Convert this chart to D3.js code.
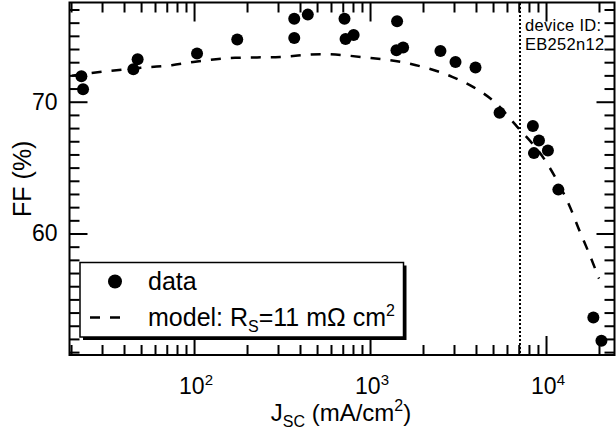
<!DOCTYPE html>
<html>
<head>
<meta charset="utf-8">
<script src="https://cdn.jsdelivr.net/npm/d3@7"></script>
<style>
  body { margin: 0; background: #fff; }
  svg { display: block; font-family: "Liberation Sans", Arial, Helvetica, sans-serif; }
</style>
</head>
<body>
<div id="vis"></div>
<script>
// measured points (J_SC in mA/cm2, FF in %)
const jsc = [22.9, 23.4, 47.8, 45.2, 104, 176, 371, 443, 371, 716, 807, 726,
             1425, 1542, 1413, 2512, 3060, 3975, 5447, 8420, 9120, 8540, 10250, 11750, 18580, 20650]
const ff = [71.94, 70.94, 73.23, 72.47, 73.66, 74.72, 76.30, 76.61, 74.84, 76.30, 75.06, 74.76,
            76.10, 74.11, 73.91, 73.85, 73.02, 72.60, 69.17, 68.16, 67.05, 66.10, 66.30, 63.33, 53.63, 51.86]

// series-resistance model curve
const modelJ = [20.2, 29.9, 45, 74.7, 99, 171, 308, 533, 940, 1658, 2930, 3890, 5165, 6714,
                10250, 13800, 15540, 17480, 20000]
const modelFF = [71.98, 72.27, 72.52, 72.77, 73.02, 73.33, 73.40, 73.61, 73.36, 72.90, 71.89, 71.09,
                 69.92, 68.24, 65.22, 61.89, 60.17, 58.56, 56.58]

const deviceJ = 7080
const deviceText = ["device ID:", "EB252n12"]

const xMajor = [100, 1000, 10000]
const xMajorExp = ["2", "3", "4"]
const xMinor = [20, 30, 40, 50, 60, 70, 80, 90, 200, 300, 400, 500, 600, 700, 800, 900,
                2000, 3000, 4000, 5000, 6000, 7000, 8000, 9000, 20000]
const yMajor = [60, 70]
const yMinor = [51, 52, 53, 54, 55, 56, 57, 58, 59, 61, 62, 63, 64, 65, 66, 67, 68, 69,
                71, 72, 73, 74, 75, 76, 77]

const W = 616, H = 434
const m = {left: 69.5, right: 1.5, top: 2.5, bottom: 79}

let svg = d3.select("#vis").append("svg")
    .attr("width", W)
    .attr("height", H)

let x = d3.scaleLog().domain([19.6, 24500]).range([m.left, W - m.right])
let y = d3.scaleLinear().domain([50.78, 77.53]).range([H - m.bottom, m.top])

// ticks, all pointing inward, mirrored on top and right
function ticks(axis, vals, len, transform) {
    svg.append("g")
       .attr("transform", transform)
       .call(axis.tickValues(vals).tickSize(-len).tickFormat(""))
       .call(g => g.select(".domain").remove())
       .call(g => g.selectAll("line").attr("stroke-width", 2))
}
ticks(d3.axisBottom(x), xMinor, 10, `translate(0,${H - m.bottom})`)
ticks(d3.axisBottom(x), xMajor, 19, `translate(0,${H - m.bottom})`)
ticks(d3.axisTop(x), xMinor, 10, `translate(0,${m.top})`)
ticks(d3.axisTop(x), xMajor, 19, `translate(0,${m.top})`)
ticks(d3.axisLeft(y), yMinor, 10, `translate(${m.left},0)`)
ticks(d3.axisLeft(y), yMajor, 18, `translate(${m.left},0)`)
ticks(d3.axisRight(y), yMinor, 10, `translate(${W - m.right},0)`)
ticks(d3.axisRight(y), yMajor, 18, `translate(${W - m.right},0)`)

// tick labels
svg.append("g").selectAll("text")
   .data(yMajor)
   .join("text")
   .attr("x", m.left - 12)
   .attr("y", d => y(d))
   .attr("dy", "0.34em")
   .attr("text-anchor", "end")
   .attr("font-size", 23)
   .text(d => d)

let xl = svg.append("g").selectAll("text")
   .data(xMajor)
   .join("text")
   .attr("x", d => x(d) + 2)
   .attr("y", 394)
   .attr("text-anchor", "middle")
   .attr("font-size", 23)
xl.append("tspan").text("10")
xl.append("tspan").attr("dy", -9).attr("font-size", 15).text((d, i) => xMajorExp[i])

// axis titles
let xt = svg.append("text")
   .attr("x", 341)
   .attr("y", 421)
   .attr("text-anchor", "middle")
   .attr("font-size", 24)
xt.append("tspan").text("J")
xt.append("tspan").attr("dy", 6).attr("font-size", 16).text("SC")
xt.append("tspan").attr("dy", -6).text(" (mA/cm")
xt.append("tspan").attr("dy", -10).attr("font-size", 16).text("2")
xt.append("tspan").attr("dy", 10).text(")")

svg.append("text")
   .attr("transform", `translate(31,${(m.top + H - m.bottom) / 2}) rotate(-90)`)
   .attr("text-anchor", "middle")
   .attr("font-size", 25)
   .text("FF (%)")

// device marker
let xd = Math.round(x(deviceJ))
svg.append("line")
   .attr("x1", xd).attr("x2", xd)
   .attr("y1", m.top).attr("y2", H - m.bottom)
   .attr("stroke", "#000")
   .attr("stroke-width", 2)
   .attr("stroke-dasharray", "2,2")
   .attr("shape-rendering", "crispEdges")

svg.append("g").selectAll("text")
   .data(deviceText)
   .join("text")
   .attr("x", xd + 5)
   .attr("y", (d, i) => 31 + i * 19)
   .attr("font-size", 16.5)
   .attr("letter-spacing", 0.3)
   .text(d => d)

// model
let line = d3.line()
    .x((d, i) => x(modelJ[i]))
    .y(d => y(d))
    .curve(d3.curveMonotoneX)

svg.append("path")
   .datum(modelFF)
   .attr("d", line)
   .attr("fill", "none")
   .attr("stroke", "#000")
   .attr("stroke-width", 2.5)
   .attr("stroke-dasharray", "10,10")

// data
svg.append("g").selectAll("circle")
   .data(ff)
   .join("circle")
   .attr("cx", (d, i) => x(jsc[i]))
   .attr("cy", d => y(d))
   .attr("r", 6)
   .attr("fill", "#000")

// frame
svg.append("rect")
   .attr("x", m.left).attr("y", m.top)
   .attr("width", W - m.left - m.right)
   .attr("height", H - m.top - m.bottom)
   .attr("fill", "none")
   .attr("stroke", "#000")
   .attr("stroke-width", 2)

// legend
let lg = svg.append("g").attr("transform", "translate(80,262.5)")
lg.append("rect").attr("x", 3).attr("y", 3).attr("width", 323.5).attr("height", 74.5).attr("fill", "#000")
lg.append("rect").attr("width", 323.5).attr("height", 74.5)
  .attr("fill", "#fff").attr("stroke", "#000").attr("stroke-width", 1.5)
lg.append("circle").attr("cx", 35).attr("cy", 19).attr("r", 7).attr("fill", "#000")
lg.append("text").attr("x", 68).attr("y", 27).attr("font-size", 25).text("data")
lg.append("line").attr("x1", 10).attr("x2", 42).attr("y1", 55).attr("y2", 55)
  .attr("stroke", "#000").attr("stroke-width", 2.5).attr("stroke-dasharray", "10,10")
let mt = lg.append("text").attr("x", 68).attr("y", 63).attr("font-size", 25)
mt.append("tspan").text("model: R")
mt.append("tspan").attr("dy", 6).attr("font-size", 16).text("S")
mt.append("tspan").attr("dy", -6).text("=11 mΩ cm")
mt.append("tspan").attr("dy", -10).attr("font-size", 16).text("2")
</script>
</body>
</html>
